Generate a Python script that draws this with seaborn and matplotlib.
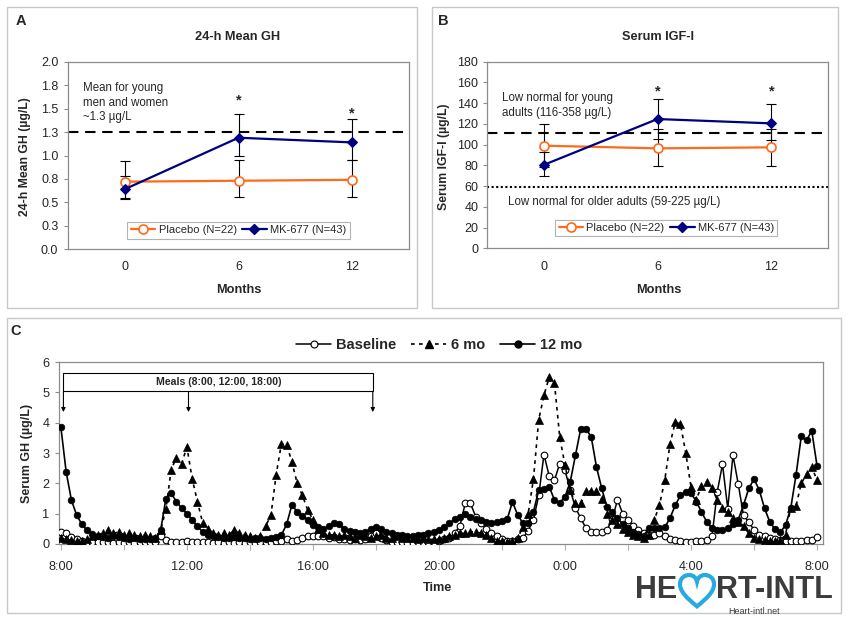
import numpy as np
import pandas as pd
import matplotlib
matplotlib.use("Agg")
import matplotlib.pyplot as plt
import seaborn as sns
from matplotlib.lines import Line2D
from matplotlib.patches import Rectangle, PathPatch
from matplotlib.path import Path

sns.set_style("white")
plt.rcParams['font.family'] = ['Liberation Sans', 'DejaVu Sans']

# ---------------- data: panel A (24-h mean GH) ----------------
months = [0, 6, 12]
month_labels = ["0", "6", "12"]
gh_placebo = [0.72, 0.73, 0.74]
gh_placebo_lo = [0.19, 0.17, 0.18]
gh_placebo_hi = [0.22, 0.22, 0.21]
gh_mk = [0.64, 1.19, 1.14]
gh_mk_lo = [0.09, 0.20, 0.19]
gh_mk_hi = [0.14, 0.25, 0.25]
gh_young_mean = 1.25
gh_yticks = [0.0, 0.25, 0.5, 0.75, 1.0, 1.25, 1.5, 1.75, 2.0]
gh_yticklabels = ["0.0", "0.3", "0.5", "0.8", "1.0", "1.3", "1.5", "1.8", "2.0"]

# ---------------- data: panel B (serum IGF-I) ----------------
igf_placebo = [99.0, 96.4, 97.4]
igf_placebo_lo = [20.6, 17.0, 18.0]
igf_placebo_hi = [20.6, 18.5, 18.0]
igf_mk = [80.4, 124.7, 120.5]
igf_mk_lo = [10.4, 19.3, 16.0]
igf_mk_hi = [12.2, 19.3, 18.4]
igf_young_low = 111.5
igf_older_low = 58.8
igf_yticks = [0, 20, 40, 60, 80, 100, 120, 140, 160, 180]

# ---------------- data: panel C (24-h GH profiles, 10-min samples from 8:00) ----------------
sample_minutes = 10
gh_baseline = [
    0.38, 0.35, 0.22, 0.15, 0.10, 0.08,   # 8h
    0.06, 0.05, 0.06, 0.05, 0.04, 0.05,   # 9h
    0.04, 0.05, 0.04, 0.05, 0.05, 0.06,   # 10h
    0.08, 0.25, 0.12, 0.05, 0.08, 0.08,   # 11h
    0.10, 0.05, 0.05, 0.06, 0.05, 0.04,   # 12h
    0.05, 0.04, 0.05, 0.04, 0.05, 0.04,   # 13h
    0.05, 0.04, 0.05, 0.06, 0.08, 0.10,   # 14h
    0.10, 0.15, 0.10, 0.12, 0.20, 0.25,   # 15h
    0.25, 0.28, 0.25, 0.20, 0.22, 0.18,   # 16h
    0.15, 0.12, 0.15, 0.12, 0.15, 0.25,   # 17h
    0.35, 0.20, 0.12, 0.08, 0.05, 0.05,   # 18h
    0.04, 0.04, 0.05, 0.05, 0.06, 0.08,   # 19h
    0.10, 0.15, 0.20, 0.36, 0.60, 1.34,   # 20h
    1.34, 0.90, 0.70, 0.50, 0.35, 0.25,   # 21h
    0.15, 0.10, 0.10, 0.15, 0.20, 0.44,   # 22h
    0.80, 1.60, 2.95, 2.24, 2.10, 2.65,   # 23h
    2.43, 1.78, 1.20, 0.85, 0.52, 0.41,   # 0h
    0.38, 0.41, 0.46, 0.82, 1.45, 1.00,   # 1h
    0.80, 0.60, 0.45, 0.35, 0.30, 0.30,   # 2h
    0.35, 0.25, 0.15, 0.12, 0.10, 0.08,   # 3h
    0.08, 0.10, 0.10, 0.12, 0.25, 1.72,   # 4h
    2.63, 1.17, 2.93, 1.97, 0.95, 0.73,   # 5h
    0.46, 0.30, 0.25, 0.20, 0.15, 0.12,   # 6h
    0.10, 0.10, 0.10, 0.10, 0.12, 0.12,   # 7h
    0.22]
gh_6mo = [
    0.20, 0.15, 0.12, 0.10, 0.10, 0.15,
    0.25, 0.30, 0.35, 0.45, 0.35, 0.40,
    0.30, 0.35, 0.30, 0.25, 0.30, 0.25,
    0.20, 0.45, 1.15, 2.45, 2.85, 2.65,
    3.20, 2.15, 1.40, 0.70, 0.50, 0.35,
    0.30, 0.35, 0.30, 0.45, 0.35, 0.30,
    0.25, 0.20, 0.25, 0.59, 0.95, 2.29,
    3.31, 3.28, 2.70, 2.00, 1.60, 1.12,
    0.80, 0.50, 0.35, 0.30, 0.30, 0.25,
    0.30, 0.25, 0.20, 0.30, 0.25, 0.20,
    0.25, 0.30, 0.20, 0.20, 0.25, 0.20,
    0.20, 0.20, 0.15, 0.20, 0.15, 0.15,
    0.15, 0.20, 0.25, 0.30, 0.35, 0.35,
    0.40, 0.40, 0.35, 0.30, 0.20, 0.10,
    0.10, 0.08, 0.10, 0.20, 0.57, 1.00,
    2.15, 4.10, 4.90, 5.50, 5.30, 3.53,
    2.60, 1.78, 1.34, 1.34, 1.74, 1.74,
    1.74, 1.47, 1.00, 0.80, 0.65, 0.50,
    0.40, 0.30, 0.25, 0.20, 0.30, 0.79,
    1.28, 2.10, 3.29, 4.02, 3.95, 3.00,
    1.89, 1.45, 1.92, 2.05, 1.85, 1.45,
    1.20, 1.06, 0.85, 0.73, 0.60, 0.35,
    0.20, 0.15, 0.12, 0.10, 0.10, 0.12,
    0.30, 1.20, 1.25, 2.00, 2.30, 2.54,
    2.10]
gh_12mo = [
    3.85, 2.38, 1.45, 0.95, 0.65, 0.45,
    0.32, 0.25, 0.22, 0.20, 0.25, 0.22,
    0.20, 0.18, 0.20, 0.17, 0.18, 0.17,
    0.20, 0.45, 1.50, 1.67, 1.40, 1.18,
    1.00, 0.80, 0.58, 0.40, 0.30, 0.25,
    0.22, 0.20, 0.20, 0.22, 0.20, 0.20,
    0.18, 0.20, 0.20, 0.18, 0.20, 0.22,
    0.30, 0.65, 1.30, 1.05, 0.92, 0.80,
    0.64, 0.55, 0.48, 0.60, 0.70, 0.66,
    0.48, 0.42, 0.38, 0.35, 0.40, 0.50,
    0.57, 0.50, 0.40, 0.35, 0.30, 0.30,
    0.28, 0.28, 0.30, 0.30, 0.35, 0.40,
    0.45, 0.55, 0.68, 0.82, 0.90, 0.98,
    0.90, 0.82, 0.79, 0.72, 0.70, 0.72,
    0.75, 0.82, 1.39, 0.95, 0.69, 0.69,
    1.06, 1.78, 1.80, 1.89, 1.45, 1.36,
    1.55, 2.05, 2.93, 3.80, 3.80, 3.53,
    2.54, 1.83, 1.23, 1.06, 0.85, 0.65,
    0.52, 0.41, 0.32, 0.27, 0.53, 0.52,
    0.52, 0.55, 0.85, 1.28, 1.60, 1.73,
    1.68, 1.40, 1.06, 0.73, 0.52, 0.46,
    0.46, 0.52, 0.65, 0.80, 1.28, 1.83,
    2.14, 1.78, 1.18, 0.73, 0.49, 0.38,
    0.62, 1.18, 2.27, 3.55, 3.42, 3.73,
    2.58]
time_ticks = [0, 4, 8, 12, 16, 20, 24]
time_labels = ["8:00", "12:00", "16:00", "20:00", "0:00", "4:00", "8:00"]
meal_hours = [0, 4, 10]

ORANGE = "#FF6A1A"
NAVY = "#000080"
SPINE = "#8C8C8C"
W, H = 850, 618


def fx(px):
    return px / W


def fy(py):
    return 1 - py / H


fig = plt.figure(figsize=(8.5, 6.18), dpi=100)

# panel frames
for (x0, y0, x1, y1) in [(7, 7, 417, 308), (432, 7, 838, 308), (7, 318, 841, 613)]:
    fig.add_artist(Rectangle((fx(x0), fy(y1)), fx(x1) - fx(x0), fy(y0) - fy(y1),
                             transform=fig.transFigure, fill=False,
                             edgecolor="#C8C8C8", lw=1.0))


def style_small_axes(ax):
    for s in ax.spines.values():
        s.set_color(SPINE)
        s.set_linewidth(0.9)
    ax.tick_params(axis="y", length=3, width=0.8, color=SPINE, pad=4,
                   labelsize=9, left=True, direction="out")
    ax.tick_params(axis="x", length=0, pad=9, labelsize=9, bottom=True)
    ax.set_xlabel("")
    ax.set_ylabel("")


def legend_handles():
    return [Line2D([], [], color=ORANGE, lw=1.6, marker="o", ms=6.5,
                   mfc="white", mec=ORANGE, mew=1.2),
            Line2D([], [], color=NAVY, lw=1.6, marker="D", ms=5,
                   mfc=NAVY, mec=NAVY)]


# ---------------- Panel A ----------------
axA = fig.add_axes([fx(68), fy(249), fx(409) - fx(68), fy(62) - fy(249)])
axA.axhline(gh_young_mean, color="black", lw=1.5, ls=(0, (5, 3.2)), zorder=1)
axA.errorbar(months, gh_placebo, yerr=[gh_placebo_lo, gh_placebo_hi], fmt="none",
             ecolor="black", elinewidth=0.8, capsize=3.5, capthick=0.8, zorder=2)
axA.errorbar(months, gh_mk, yerr=[gh_mk_lo, gh_mk_hi], fmt="none",
             ecolor="black", elinewidth=0.8, capsize=3.5, capthick=0.8, zorder=2)
sns.lineplot(x=months, y=gh_placebo, ax=axA, color=ORANGE, lw=1.6, marker="o",
             markersize=6.5, markerfacecolor="white", markeredgecolor=ORANGE,
             markeredgewidth=1.2, errorbar=None, zorder=3)
sns.lineplot(x=months, y=gh_mk, ax=axA, color=NAVY, lw=1.6, marker="D",
             markersize=5, markerfacecolor=NAVY, markeredgecolor=NAVY,
             errorbar=None, zorder=4)
axA.set_xlim(-3, 15)
axA.set_ylim(0, 2.0)
axA.set_yticks(gh_yticks, gh_yticklabels)
axA.set_xticks(months, month_labels)
style_small_axes(axA)
axA.text(6, 1.55, "*", ha="center", va="baseline", fontsize=10.5, weight="bold")
axA.text(12, 1.41, "*", ha="center", va="baseline", fontsize=10.5, weight="bold")
fig.text(fx(83), fy(82), "Mean for young\nmen and women\n~1.3 µg/L",
         ha="left", va="top", fontsize=8.3, linespacing=1.3)
legA = axA.legend(handles=legend_handles(), labels=["Placebo (N=22)", "MK-677 (N=43)"],
                  loc="center", bbox_to_anchor=(0.5, 0.1), ncol=2, frameon=True,
                  fancybox=False, edgecolor="#A0A0A0", fontsize=8, handlelength=2.2,
                  columnspacing=0.5, handletextpad=0.3, borderpad=0.3)
legA.get_frame().set_linewidth(0.8)
fig.text(fx(21), fy(21), "A", fontsize=10.5, weight="bold", ha="center", va="center")
fig.text(fx(238), fy(37), "24-h Mean GH", fontsize=9.2, weight="bold", ha="center", va="center")
fig.text(fx(239), fy(290), "Months", fontsize=9.2, weight="bold", ha="center", va="center")
fig.text(fx(25), fy(157), "24-h Mean GH (µg/L)", fontsize=8.8, weight="bold",
         ha="center", va="center", rotation=90)

# ---------------- Panel B ----------------
axB = fig.add_axes([fx(486.7), fy(248.3), fx(828.3) - fx(486.7), fy(61.7) - fy(248.3)])
axB.axhline(igf_young_low, color="black", lw=1.5, ls=(0, (5, 3.2)), zorder=1)
axB.axhline(igf_older_low, color="black", lw=1.5, ls=(0, (1, 1.2)), zorder=1)
axB.errorbar(months, igf_placebo, yerr=[igf_placebo_lo, igf_placebo_hi], fmt="none",
             ecolor="black", elinewidth=0.8, capsize=3.5, capthick=0.8, zorder=2)
axB.errorbar(months, igf_mk, yerr=[igf_mk_lo, igf_mk_hi], fmt="none",
             ecolor="black", elinewidth=0.8, capsize=3.5, capthick=0.8, zorder=2)
sns.lineplot(x=months, y=igf_placebo, ax=axB, color=ORANGE, lw=1.6, marker="o",
             markersize=6.5, markerfacecolor="white", markeredgecolor=ORANGE,
             markeredgewidth=1.2, errorbar=None, zorder=3)
sns.lineplot(x=months, y=igf_mk, ax=axB, color=NAVY, lw=1.6, marker="D",
             markersize=5, markerfacecolor=NAVY, markeredgecolor=NAVY,
             errorbar=None, zorder=4)
axB.set_xlim(-3, 15)
axB.set_ylim(0, 180)
axB.set_yticks(igf_yticks)
axB.set_xticks(months, month_labels)
style_small_axes(axB)
axB.tick_params(axis="y", pad=3)
axB.text(6, 147.7, "*", ha="center", va="baseline", fontsize=10.5, weight="bold")
axB.text(12, 147.7, "*", ha="center", va="baseline", fontsize=10.5, weight="bold")
fig.text(fx(501.7), fy(92), "Low normal for young\nadults (116-358 µg/L)",
         ha="left", va="top", fontsize=8.3, linespacing=1.3)
fig.text(fx(508.3), fy(201.7), "Low normal for older adults (59-225 µg/L)",
         ha="left", va="center", fontsize=8.3)
legB = axB.legend(handles=legend_handles(), labels=["Placebo (N=22)", "MK-677 (N=43)"],
                  loc="center", bbox_to_anchor=(0.526, 0.109), ncol=2, frameon=True,
                  fancybox=False, edgecolor="#A0A0A0", fontsize=8, handlelength=2.2,
                  columnspacing=0.5, handletextpad=0.3, borderpad=0.3)
legB.get_frame().set_linewidth(0.8)
fig.text(fx(443), fy(21), "B", fontsize=10.5, weight="bold", ha="center", va="center")
fig.text(fx(658), fy(37), "Serum IGF-I", fontsize=9.2, weight="bold", ha="center", va="center")
fig.text(fx(659), fy(290), "Months", fontsize=9.2, weight="bold", ha="center", va="center")
fig.text(fx(443.5), fy(157), "Serum IGF-I (µg/L)", fontsize=8.8, weight="bold",
         ha="center", va="center", rotation=90)

# ---------------- Panel C ----------------
hours = np.arange(len(gh_baseline)) * sample_minutes / 60.0
axC = fig.add_axes([fx(59), fy(544), fx(823) - fx(59), fy(362) - fy(544)])
sns.lineplot(x=hours, y=gh_baseline, ax=axC, color="black", lw=1.1, marker="o",
             markersize=4.8, markerfacecolor="white", markeredgecolor="black",
             markeredgewidth=0.8, errorbar=None, zorder=3)
sns.lineplot(x=hours, y=gh_6mo, ax=axC, color="black", lw=1.2, ls=(0, (2.2, 2.6)),
             marker="^", markersize=5.2, markerfacecolor="black", markeredgecolor="black",
             markeredgewidth=0.5, errorbar=None, zorder=4)
sns.lineplot(x=hours, y=gh_12mo, ax=axC, color="black", lw=1.2, marker="o",
             markersize=4.8, markerfacecolor="black", markeredgecolor="black",
             markeredgewidth=0.5, errorbar=None, zorder=5)
axC.set_xlim(-0.06, 24.19)
axC.set_ylim(0, 6)
axC.set_yticks(range(0, 7))
axC.set_xticks(time_ticks, time_labels)
axC.set_xticks([2, 6, 10, 14, 18, 22], minor=True)
for s in axC.spines.values():
    s.set_color(SPINE)
    s.set_linewidth(0.9)
axC.tick_params(axis="y", length=3, width=0.8, color=SPINE, pad=4, labelsize=9.2,
                left=True, direction="out")
axC.tick_params(axis="x", which="both", length=4, width=0.8, color="#B0B0B0", pad=8,
                labelsize=9.2, bottom=True, direction="out")
axC.set_xlabel("")
axC.set_ylabel("")

# meals annotation
box_lo, box_hi, arrow_tip = 5.03, 5.63, 4.35
axC.add_patch(Rectangle((meal_hours[0] + 0.08, box_lo), meal_hours[-1] - 0.18 - meal_hours[0],
                        box_hi - box_lo, fill=False, edgecolor="black", lw=0.8, zorder=6))
for i, mh in enumerate(meal_hours):
    xm = mh + (0.08 if i == 0 else (-0.1 if i == len(meal_hours) - 1 else 0.05))
    axC.annotate("", xy=(xm, arrow_tip), xytext=(xm, box_lo),
                 arrowprops=dict(arrowstyle="-|>", color="black", lw=0.8,
                                 mutation_scale=6, shrinkA=0, shrinkB=0), zorder=6)
axC.text((meal_hours[0] + meal_hours[-1]) / 2, (box_lo + box_hi) / 2,
         "Meals (8:00, 12:00, 18:00)", ha="center", va="center", fontsize=7.6,
         weight="bold", zorder=7)

handlesC = [Line2D([], [], color="black", lw=1.1, marker="o", ms=5,
                   mfc="white", mec="black", mew=0.8),
            Line2D([], [], color="black", lw=1.2, ls=(0, (2.2, 2.6)), marker="^", ms=5.5,
                   mfc="black", mec="black"),
            Line2D([], [], color="black", lw=1.2, marker="o", ms=5,
                   mfc="black", mec="black")]
fig.legend(handles=handlesC, labels=["Baseline", "6 mo", "12 mo"], loc="center",
           bbox_to_anchor=(fx(439.5), fy(345)), ncol=3, frameon=False,
           prop={"weight": "bold", "size": 10.5}, handlelength=2.4,
           columnspacing=1.0, handletextpad=0.35)
fig.text(fx(16), fy(331), "C", fontsize=10.5, weight="bold", ha="center", va="center")
fig.text(fx(27), fy(453), "Serum GH (µg/L)", fontsize=9, weight="bold",
         ha="center", va="center", rotation=90)
fig.text(fx(438), fy(588), "Time", fontsize=9.2, weight="bold", ha="center", va="center")

# ---------------- logo ----------------
LOGO = "#3C3C3C"
fig.text(fx(677), fy(598), "HE", ha="right", va="baseline", fontsize=22,
         weight="bold", color=LOGO)
fig.text(fx(833), fy(598), "RT-INTL", ha="right", va="baseline", fontsize=22,
         weight="bold", color=LOGO)
fig.text(fx(754), fy(614), "Heart-intl.net", ha="center", va="baseline",
         fontsize=6.5, color=LOGO)
heart_u = [(0.5, 0.05), (0.2, 0.3), (0.0, 0.5), (0.0, 0.72),
           (0.0, 0.92), (0.15, 1.0), (0.27, 1.0),
           (0.4, 1.0), (0.48, 0.9), (0.5, 0.8),
           (0.52, 0.9), (0.6, 1.0), (0.73, 1.0),
           (0.85, 1.0), (1.0, 0.92), (1.0, 0.72),
           (1.0, 0.5), (0.8, 0.3), (0.5, 0.05), (0.5, 0.05)]
codes = [Path.MOVETO] + [Path.CURVE4] * 18 + [Path.CLOSEPOLY]
hx0, hx1, hyb, hyt = 680, 714, 608, 575
verts = [(fx(hx0 + u * (hx1 - hx0)), fy(hyb - v * (hyb - hyt))) for u, v in heart_u]
fig.add_artist(PathPatch(Path(verts, codes), transform=fig.transFigure, fill=False,
                         edgecolor="#27AAE1", lw=3.0))

fig.savefig("out.png", dpi=100)
